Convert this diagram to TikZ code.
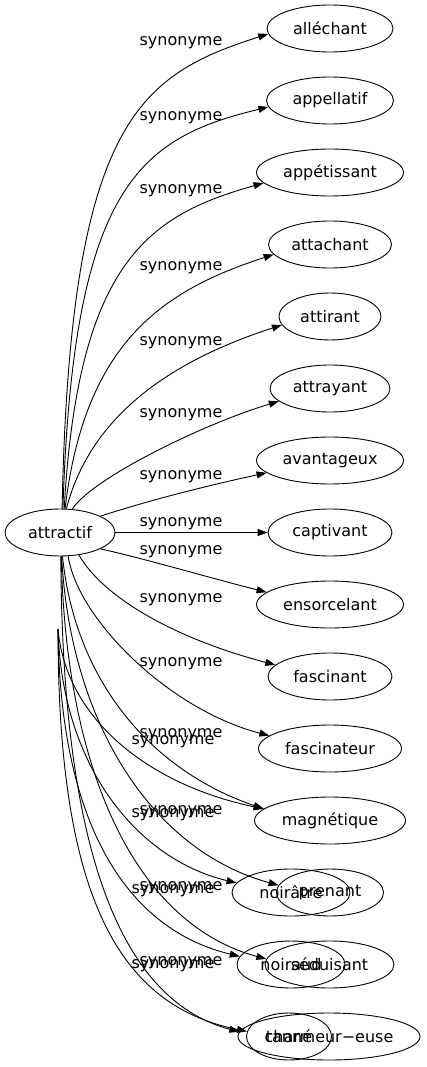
\documentclass[tikz,border=0pt]{standalone}
\usepackage{fontspec}
\setmainfont{DejaVu Sans}
\usetikzlibrary{arrows.meta,shapes.geometric}
\begin{document}
\begin{tikzpicture}[x=1pt,y=-1pt,
  word/.style={draw,ellipse,inner sep=0pt,minimum height=47pt,line width=0.9pt,font=\fontsize{16}{19}\selectfont},
  lab/.style={inner sep=0pt,anchor=base,font=\fontsize{16}{19}\selectfont},
  rel/.style={line width=0.9pt,-{Triangle[length=10pt,width=7pt]}}]
\useasboundingbox (0,0) rectangle (426,1067);
% nodes
\node[word,minimum width=110pt] (a) at (60,532.5) {attractif};
\node[word,minimum width=126pt] (t0) at (330,28.5) {alléchant};
\node[word,minimum width=127pt] (t1) at (330,100.5) {appellatif};
\node[word,minimum width=147pt] (t2) at (330,172.5) {appétissant};
\node[word,minimum width=123pt] (t3) at (330,244.5) {attachant};
\node[word,minimum width=102pt] (t4) at (330,316.5) {attirant};
\node[word,minimum width=120pt] (t5) at (330,388.5) {attrayant};
\node[word,minimum width=147pt] (t6) at (330,460.5) {avantageux};
\node[word,minimum width=124pt] (t7) at (330,532.5) {captivant};
\node[word,minimum width=147pt] (t8) at (330,604.5) {ensorcelant};
\node[word,minimum width=124pt] (t9) at (330,676.5) {fascinant};
\node[word,minimum width=143pt] (t10) at (330,748.5) {fascinateur};
\node[word,minimum width=151pt] (t11) at (330,820.5) {magnétique};
\node[word,minimum width=118pt] (n12) at (291,892.5) {noirâtre};
\node[word,minimum width=107pt] (t12) at (330,892.5) {prenant};
\node[word,minimum width=108pt] (n13) at (291,964.5) {noiraud};
\node[word,minimum width=129pt] (t13) at (329.5,964.5) {séduisant};
\node[word,minimum width=180pt] (t14) at (329,1036.5) {charmeur−euse};
\node[word,minimum width=85pt] (n14) at (289,1036.5) {tanné};
\coordinate (ph) at (58,629);
% main edges
\draw[rel] (a.85) .. controls (70,120) and (140,75) .. (t0.185);
\draw[rel] (a.83) .. controls (73,185) and (140,138) .. (t1.186);
\draw[rel] (a.80) .. controls (78,260) and (150,215) .. (t2.189);
\draw[rel] (a.78) .. controls (85,340) and (165,290) .. (t3.190);
\draw[rel] (a.75) .. controls (92,410) and (180,358) .. (t4.190);
\draw[rel] (a.62) .. controls (90,480) and (200,425) .. (t5.194);
\draw[rel] (a.22) .. controls (150,500) and (210,485) .. (t6.191);
\draw[rel] (a) -- (t7);
\draw[rel] (a.-22) .. controls (150,560) and (210,578) .. (t8.169);
\draw[rel] (a.-50) .. controls (105,600) and (180,640) .. (t9.168);
\draw[rel] (a.-71) .. controls (78,620) and (170,710) .. (t10.168);
\draw[rel] (a.-84) .. controls (75,680) and (150,770) .. (t11.170);
\draw[rel] (a.-86) .. controls (70,720) and (150,850) .. (t12.172);
\draw[rel] (a.-87) .. controls (66,780) and (140,925) .. (t13.175);
\draw[rel] (a.-88) .. controls (62,850) and (120,1000) .. (t14.177);
% second group of edges
\draw[rel] (ph) .. controls (66,720) and (150,785) .. (t11.170);
\draw[rel] (ph) .. controls (62,770) and (140,860) .. (n12.170);
\draw[rel] (ph) .. controls (60,830) and (130,930) .. (n13.171);
\draw[rel] (ph) .. controls (58,890) and (115,1005) .. (n14.173);
% labels
\node[lab] (l0) at (181,45.4) {synonyme};
\node[lab] (l1) at (181,120.4) {synonyme};
\node[lab] (l2) at (181,193.4) {synonyme};
\node[lab] (l3) at (181,270.4) {synonyme};
\node[lab] (l4) at (181,345.4) {synonyme};
\node[lab] (l5) at (181,417) {synonyme};
\node[lab] (l6) at (181,479.4) {synonyme};
\node[lab] (l7) at (181,526) {synonyme};
\node[lab] (l8) at (181,554.4) {synonyme};
\node[lab] (l9) at (181,602) {synonyme};
\node[lab] (l10) at (181,666) {synonyme};
\node[lab] (l11) at (181,737.7) {synonyme};
\node[lab] (l12) at (181,814.4) {synonyme};
\node[lab] (l13) at (181,890.4) {synonyme};
\node[lab] (l14) at (181,965.4) {synonyme};
\node[lab] (m11) at (173,744.4) {synonyme};
\node[lab] (m12) at (173,817.4) {synonyme};
\node[lab] (m13) at (173,893.4) {synonyme};
\node[lab] (m14) at (173,968.4) {synonyme};
\end{tikzpicture}
\end{document}
